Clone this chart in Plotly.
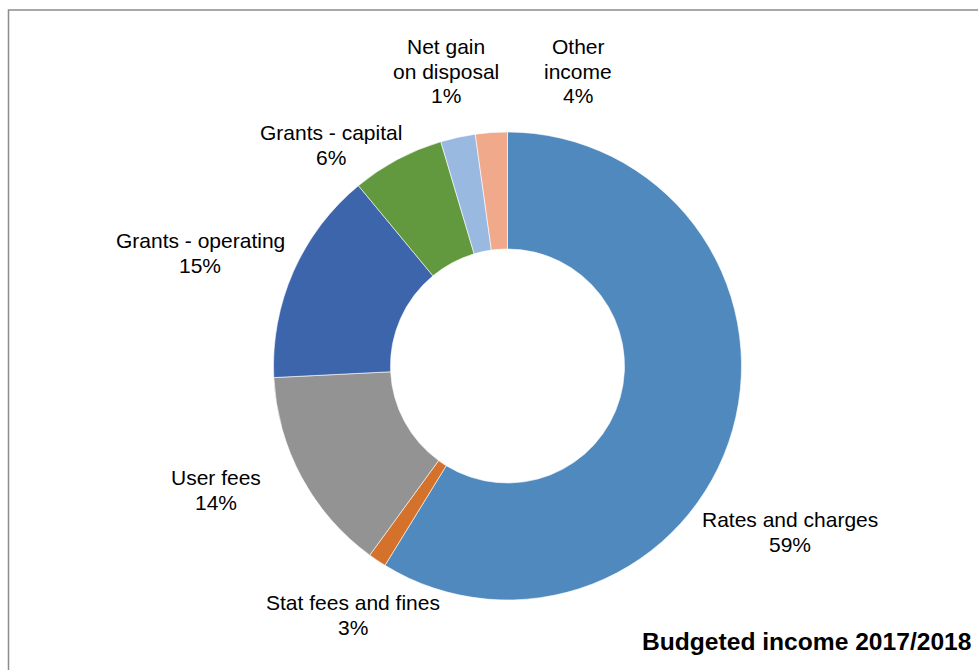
import plotly.graph_objects as go

# Data
categories = ["Rates and charges", "Stat fees and fines", "User fees", "Grants - operating",
              "Grants - capital", "Net gain on disposal", "Other income"]
slice_values = [58.8, 1.25, 14.2, 14.8, 6.4, 2.4, 2.2]
label_pcts = ["59%", "3%", "14%", "15%", "6%", "1%", "4%"]
label_names = [["Rates and charges"], ["Stat fees and fines"], ["User fees"], ["Grants - operating"],
               ["Grants - capital"], ["Net gain", "on disposal"], ["Other", "income"]]
colors = ["#4F89BD", "#D4712B", "#939393", "#3D65AC", "#62993E", "#9AB9E0", "#F0A98B"]
title_text = "Budgeted income 2017/2018"

W, H = 978, 670
cx, cy, R = 507.5, 366, 234
FONT = "Liberation Sans, Arial, sans-serif"

fig = go.Figure()
fig.add_trace(go.Pie(
    labels=categories, values=slice_values, sort=False, direction="clockwise",
    rotation=0, hole=0.5, textinfo="none", hoverinfo="label+percent",
    marker=dict(colors=colors, line=dict(color="white", width=0.6)),
    domain=dict(x=[(cx - R) / W, (cx + R) / W], y=[(H - cy - R) / H, (H - cy + R) / H]),
    showlegend=False,
))

# label block centres (pixels) for outside data labels
label_pos = [(790, 532), (353, 615), (216, 490), (200, 253), (331, 145), (446, 71), (578, 71)]
LINE = 24.5
annotations = []
for name_lines, pct, (px, py) in zip(label_names, label_pcts, label_pos):
    lines = name_lines + [pct]
    n = len(lines)
    for i, ln in enumerate(lines):
        yy = py + (i - (n - 1) / 2) * LINE
        annotations.append(dict(
            x=px / W, y=1 - yy / H, xref="paper", yref="paper", showarrow=False,
            text=ln, xanchor="center", yanchor="middle", align="center",
            font=dict(family=FONT, size=21, color="#000000"),
        ))
annotations.append(dict(
    x=640 / W, y=1 - 641 / H, xref="paper", yref="paper", showarrow=False,
    text=f"<b>{title_text}</b>", xanchor="left", yanchor="middle",
    font=dict(family=FONT, size=24.6, color="#000000"),
))

fig.update_layout(
    width=W, height=H, margin=dict(l=0, r=0, t=0, b=0),
    paper_bgcolor="white", plot_bgcolor="white",
    annotations=annotations,
    shapes=[dict(type="rect", xref="paper", yref="paper",
                 x0=8.5 / W, x1=1.05, y0=-0.05, y1=1 - 10 / H,
                 line=dict(color="#8C8C8C", width=1.5), fillcolor="rgba(0,0,0,0)", layer="below")],
)

fig.write_html("out.html")
